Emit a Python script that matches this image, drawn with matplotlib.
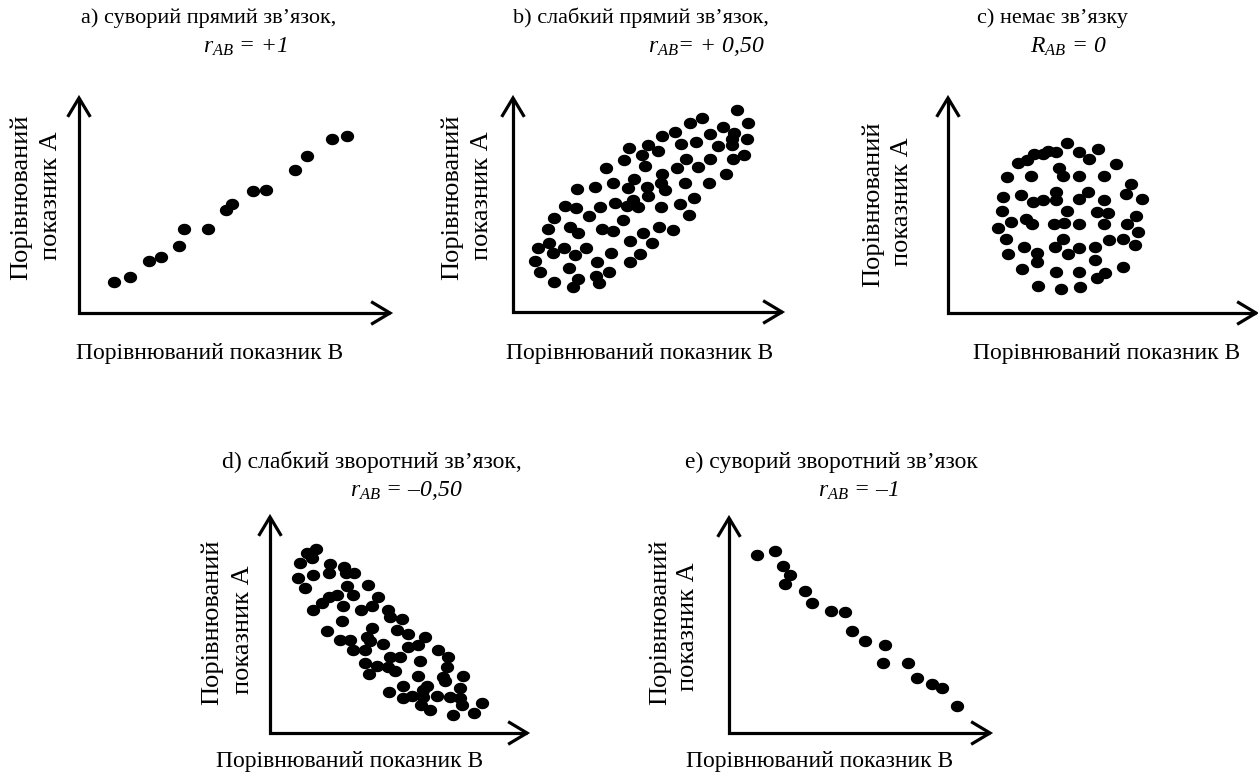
import numpy as np
import matplotlib
matplotlib.use("Agg")
import matplotlib.pyplot as plt
from matplotlib.path import Path

plt.rcParams['font.family'] = ['Liberation Serif', 'DejaVu Serif']
plt.rcParams['mathtext.fontset'] = 'custom'
plt.rcParams['mathtext.rm'] = 'Liberation Serif'
plt.rcParams['mathtext.it'] = 'Liberation Serif:italic'
plt.rcParams['mathtext.bf'] = 'Liberation Serif:bold'

# ---------------- data (arbitrary units, origin at axis corner) ----------------
a_x = [35, 51, 70, 82, 100, 105, 129, 147, 153, 174, 187, 216, 228, 253, 268]
a_y = [31, 36, 52, 56, 67, 84, 84, 103, 109, 122, 123, 143, 157, 174, 177]

b_x = [224, 235, 189, 177, 210, 162, 149, 197, 221, 234, 219, 219, 168, 183, 205,
       135, 116, 129, 145, 111, 132, 93, 173, 197, 231, 220, 185, 164, 149, 213,
       121, 100, 82, 64, 115, 134, 148, 152, 172, 196, 135, 120, 114, 125, 102,
       87, 52, 63, 41, 76, 110, 148, 167, 181, 176, 35, 57, 65, 89, 100,
       146, 160, 130, 117, 139, 25, 36, 40, 51, 73, 62, 98, 22, 27, 56,
       84, 127, 117, 96, 41, 65, 60, 83, 86]
b_y = [202, 189, 194, 189, 185, 180, 176, 178, 179, 173, 167, 173, 168, 170, 166,
       167, 164, 157, 161, 152, 146, 144, 153, 153, 157, 153, 145, 144, 138, 138,
       133, 129, 125, 123, 124, 125, 129, 122, 129, 129, 116, 112, 106, 105, 109,
       105, 106, 104, 94, 96, 92, 105, 108, 114, 97, 83, 85, 79, 83, 81,
       85, 82, 79, 71, 69, 64, 69, 59, 64, 64, 57, 59, 51, 40, 44,
       50, 58, 50, 40, 30, 33, 25, 36, 29]

c_x = [119, 131, 150, 141, 168, 70, 79, 86, 95, 100, 108, 111, 115, 131, 156,
       59, 83, 183, 178, 194, 55, 73, 85, 95, 108, 108, 131, 140, 156, 54,
       119, 149, 160, 188, 50, 63, 78, 84, 106, 116, 131, 156, 179, 190, 58,
       115, 107, 76, 89, 120, 131, 147, 161, 175, 187, 60, 89, 147, 74, 108,
       131, 149, 157, 175, 90, 113, 132]
c_y = [170, 161, 164, 154, 149, 150, 153, 159, 159, 162, 161, 145, 137, 137, 137,
       136, 137, 129, 119, 114, 116, 118, 111, 113, 121, 113, 114, 121, 113, 102,
       102, 101, 100, 97, 85, 91, 94, 89, 89, 90, 89, 89, 89, 81, 74,
       74, 66, 66, 60, 59, 65, 66, 73, 74, 68, 59, 51, 53, 44, 41,
       41, 35, 40, 46, 27, 24, 26]

d_x = [46, 37, 30, 42, 60, 74, 28, 43, 59, 76, 84, 35, 77, 98, 52,
       59, 67, 73, 83, 108, 102, 43, 91, 118, 120, 132, 72, 102, 57, 127,
       138, 155, 70, 80, 97, 100, 113, 138, 148, 83, 95, 168, 178, 120, 130,
       95, 107, 150, 177, 118, 125, 148, 173, 193, 99, 175, 133, 157, 153, 190,
       119, 133, 142, 153, 167, 180, 151, 160, 190, 192, 212, 183, 204]
d_y = [184, 180, 170, 175, 169, 166, 155, 158, 160, 160, 160, 145, 147, 148, 130,
       136, 138, 127, 138, 136, 127, 123, 123, 123, 116, 114, 112, 105, 102, 103,
       99, 96, 93, 93, 96, 92, 89, 86, 88, 83, 83, 83, 76, 76, 76,
       70, 67, 72, 66, 66, 62, 57, 56, 57, 59, 52, 47, 47, 43, 45,
       41, 35, 37, 36, 37, 36, 28, 23, 35, 28, 30, 18, 20]

e_x = [28, 46, 54, 61, 56, 76, 83, 102, 116, 123, 136, 156, 154, 179, 188, 203, 213, 228]
e_y = [178, 182, 167, 158, 149, 142, 130, 122, 121, 102, 92, 88, 70, 70, 55, 49, 45, 27]

titles = ["a) суворий прямий зв’язок,", "b) слабкий прямий зв’язок,", "c) немає зв’язку",
          "d) слабкий зворотний зв’язок,", "e) суворий зворотний зв’язок"]
coefs = [r"$\mathit{r}_{\mathit{AB}}$ = +1",
         r"$\mathit{r}_{\mathit{AB}}$= + 0,50",
         r"$\mathit{R}_{\mathit{AB}}$ = 0",
         r"$\mathit{r}_{\mathit{AB}}$ = –0,50",
         r"$\mathit{r}_{\mathit{AB}}$ = –1"]
xlabel = "Порівнюваний показник В"
ylabel1 = "Порівнюваний"
ylabel2 = "показник А"

# ---------------- layout (pixels) ----------------
W, H = 1258, 773
fig = plt.figure(figsize=(W / 100, H / 100), dpi=100)

# (origin_x, origin_y, x_tip, y_tip)
geom = [(79, 313, 390, 98), (513, 312, 782, 98), (948, 313, 1256, 98),
        (270, 733, 527, 517), (729, 733, 990, 518)]
title_pos = [(209, 18), (641, 18), (1052, 18), (372, 462), (831, 462)]
title_fs = [16, 16, 16, 17, 17]
coef_pos = [(245, 47), (706, 47), (1068, 47), (406, 491), (858, 491)]
xlab_pos = [(210, 353), (640, 353), (1107, 353), (350, 762), (820, 762)]
ylab_pos = [((21, 197), (51, 196)), ((452, 197), (482, 196)), ((873, 204), (902, 202)),
            ((212, 622), (243, 630)), ((660, 622), (688, 627))]

data = [(a_x, a_y), (b_x, b_y), (c_x, c_y), (d_x, d_y), (e_x, e_y)]

t = np.linspace(0, 2 * np.pi, 40)
ell = Path(np.column_stack([np.cos(t), 0.86 * np.sin(t)]))

FS = 17
FS_Y = 19
LW = 2.3

def fx(x):
    return x / W

def fy(y):
    return 1 - y / H

for i, (ox, oy, xt, yt) in enumerate(geom):
    w = xt - ox
    h = oy - yt
    ax = fig.add_axes([ox / W, (H - oy) / H, w / W, h / H])
    ax.set_xlim(0, w)
    ax.set_ylim(0, h)
    ax.axis('off')
    xs, ys = data[i]
    ax.scatter(xs, ys, s=92, marker=ell, color='black', linewidths=0, clip_on=False, zorder=3)
    # axes with open arrow heads
    ax.plot([0, 0, w], [h, 0, 0], color='black', lw=LW, solid_joinstyle='miter',
            solid_capstyle='butt', clip_on=False)
    hl, hw = 17.5, 10.5
    ax.plot([-hw, 0, hw], [h - hl, h, h - hl], color='black', lw=LW, clip_on=False,
            solid_joinstyle='miter')
    ax.plot([w - hl, w, w - hl], [hw, 0, -hw], color='black', lw=LW, clip_on=False,
            solid_joinstyle='miter')

    fig.text(fx(title_pos[i][0]), fy(title_pos[i][1]), titles[i], fontsize=title_fs[i],
             ha='center', va='center')
    fig.text(fx(coef_pos[i][0]), fy(coef_pos[i][1]), coefs[i], fontsize=FS,
             style='italic', ha='center', va='center')
    fig.text(fx(xlab_pos[i][0]), fy(xlab_pos[i][1]), xlabel, fontsize=FS,
             ha='center', va='center')
    (l1x, l1y), (l2x, l2y) = ylab_pos[i]
    fig.text(fx(l1x), fy(l1y), ylabel1, fontsize=FS_Y, rotation=90, ha='center', va='center')
    fig.text(fx(l2x), fy(l2y), ylabel2, fontsize=FS_Y, rotation=90, ha='center', va='center')

fig.savefig("out.png", dpi=100)
